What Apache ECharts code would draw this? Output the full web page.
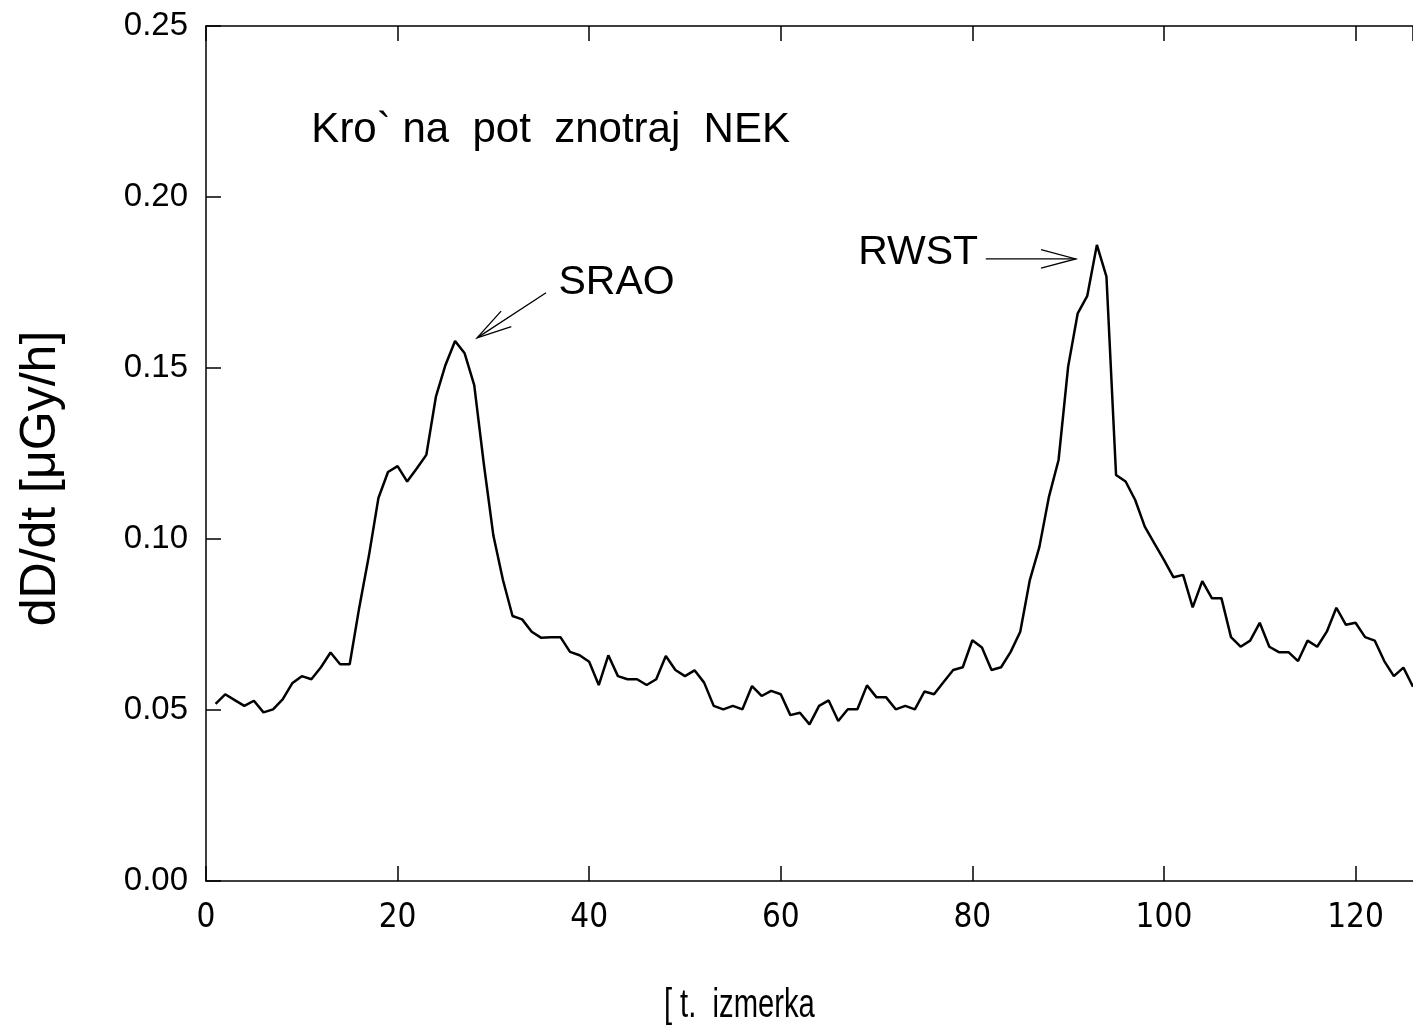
<!DOCTYPE html>
<html>
<head>
<meta charset="utf-8">
<script src="https://cdn.jsdelivr.net/npm/echarts@6/dist/echarts.min.js"></script>
<style>
html,body{margin:0;padding:0;background:#fff;}
#chart{width:1413px;height:1029px;}
</style>
</head>
<body>
<div id="chart"></div>
<script>
// measurement index 1..126
const xValues = [];
for (let i = 1; i <= 126; i++) xValues.push(i);

const doseRate = [
  0.0518, 0.0546, 0.0529, 0.0512, 0.0527, 0.0493, 0.0502, 0.0531, 0.0578, 0.0599,
  0.0590, 0.0625, 0.0668, 0.0634, 0.0634, 0.0800, 0.0950, 0.1120, 0.1196, 0.1213,
  0.1168, 0.1206, 0.1246, 0.1416, 0.1509, 0.1579, 0.1543, 0.1450, 0.1220, 0.1010,
  0.0880, 0.0775, 0.0765, 0.0729, 0.0711, 0.0713, 0.0713, 0.0670, 0.0660, 0.0641,
  0.0573, 0.0660, 0.0599, 0.0590, 0.0590, 0.0573, 0.0590, 0.0658, 0.0617, 0.0599,
  0.0616, 0.0580, 0.0512, 0.0502, 0.0512, 0.0502, 0.0570, 0.0541, 0.0556, 0.0546,
  0.0485, 0.0492, 0.0458, 0.0512, 0.0528, 0.0468, 0.0502, 0.0502, 0.0572, 0.0537,
  0.0537, 0.0502, 0.0512, 0.0502, 0.0554, 0.0546, 0.0582, 0.0617, 0.0625, 0.0704,
  0.0683, 0.0617, 0.0625, 0.0670, 0.0729, 0.0880, 0.0977, 0.1124, 0.1231, 0.1504,
  0.1660, 0.1711, 0.1860, 0.1767, 0.1187, 0.1168, 0.1114, 0.1036, 0.0987, 0.0939,
  0.0888, 0.0895, 0.0800, 0.0877, 0.0827, 0.0827, 0.0713, 0.0685, 0.0703, 0.0755,
  0.0685, 0.0669, 0.0669, 0.0643, 0.0703, 0.0685, 0.0729, 0.0799, 0.0749, 0.0755,
  0.0713, 0.0703, 0.0643, 0.0599, 0.0624, 0.0568
];

const titleText = 'Kro` na  pot  znotraj  NEK';
const yAxisName = 'dD/dt [\u03BCGy/h]';
const xAxisName = '[ t.  izmerka';

// annotation anchors in data coordinates
const titleAnchor = [11.0, 0.2196];
const sraoLabel = { text: 'SRAO', at: [36.8, 0.1749], align: 'left' };
const rwstLabel = { text: 'RWST', at: [80.6, 0.1836], align: 'right' };
const sraoArrow = { from: [35.5, 0.1720], to: [28.3, 0.1588] };
const rwstArrow = { from: [81.4, 0.1819], to: [90.8, 0.1819] };

const pairs = xValues.map((x, i) => [x, doseRate[i]]);

const chart = echarts.init(document.getElementById('chart'), null, { renderer: 'canvas' });

const axisFont = 'Arial, "Liberation Sans", sans-serif';
const narrowFont = '"Liberation Sans Narrow", "DejaVu Sans Condensed", Arial, sans-serif';

const option = {
  backgroundColor: '#fff',
  animation: false,
  grid: { left: 206, right: 0, top: 26, bottom: 148, containLabel: false },
  xAxis: [{
    type: 'value', min: 0, max: 126, interval: 20, position: 'bottom',
    axisLine: { show: true, lineStyle: { color: '#000', width: 1.5 } },
    axisTick: { show: true, inside: true, length: 15, lineStyle: { color: '#000', width: 1.5 } },
    axisLabel: { show: true, color: '#000', fontSize: 33, fontFamily: narrowFont, margin: 21, showMaxLabel: false,
      formatter: v => (v % 20 === 0 ? String(v) : '') },
    splitLine: { show: false }
  }, {
    type: 'value', min: 0, max: 126, interval: 20, position: 'top',
    axisLine: { show: true, lineStyle: { color: '#000', width: 1.5 } },
    axisTick: { show: true, inside: true, length: 15, lineStyle: { color: '#000', width: 1.5 } },
    axisLabel: { show: false },
    splitLine: { show: false }
  }],
  yAxis: [{
    type: 'value', min: 0, max: 0.25, interval: 0.05,
    name: yAxisName, nameLocation: 'middle', nameGap: 140, nameRotate: 90,
    nameTextStyle: { color: '#000', fontSize: 50, fontFamily: axisFont, padding: [0, 50, 0, 0] },
    axisLine: { show: true, lineStyle: { color: '#000', width: 1.5 } },
    axisTick: { show: true, inside: true, length: 15, lineStyle: { color: '#000', width: 1.5 } },
    axisLabel: { color: '#000', fontSize: 33, fontFamily: axisFont, margin: 18, formatter: v => v.toFixed(2) },
    splitLine: { show: false }
  }],
  series: [{
    type: 'line', xAxisIndex: 0, yAxisIndex: 0,
    data: pairs, showSymbol: false, symbol: 'none',
    lineStyle: { color: '#000', width: 2.5 },
    clip: true
  }]
};
chart.setOption(option);

function px(p) { return chart.convertToPixel({ xAxisIndex: 0, yAxisIndex: 0 }, p); }

function arrowElems(a) {
  const s = px(a.from), t = px(a.to);
  const ang = Math.atan2(t[1] - s[1], t[0] - s[0]);
  const L = 36, h = 15 * Math.PI / 180;
  const a1 = [t[0] - L * Math.cos(ang - h), t[1] - L * Math.sin(ang - h)];
  const a2 = [t[0] - L * Math.cos(ang + h), t[1] - L * Math.sin(ang + h)];
  const st = { stroke: '#000', lineWidth: 1.3, fill: null };
  return [
    { type: 'line', shape: { x1: s[0], y1: s[1], x2: t[0], y2: t[1] }, style: st, silent: true },
    { type: 'polyline', shape: { points: [a1, t, a2] }, style: st, silent: true }
  ];
}

const tp = px(titleAnchor);
const sp = px(sraoLabel.at);
const rp = px(rwstLabel.at);
const xNamePos = px([47.8, 0]);

chart.setOption({
  graphic: [
    { type: 'text', x: tp[0], y: tp[1], style: { text: titleText, fill: '#000', font: '42px Arial, "Liberation Sans", sans-serif', textAlign: 'left', textVerticalAlign: 'middle' } },
    { type: 'text', x: sp[0], y: sp[1], style: { text: sraoLabel.text, fill: '#000', font: '41px Arial, "Liberation Sans", sans-serif', textAlign: 'left', textVerticalAlign: 'middle' } },
    { type: 'text', x: rp[0], y: rp[1], style: { text: rwstLabel.text, fill: '#000', font: '41px Arial, "Liberation Sans", sans-serif', textAlign: 'right', textVerticalAlign: 'middle' } },
    { type: 'text', x: xNamePos[0], y: 1006, scaleX: 0.73, style: { text: xAxisName, fill: '#000', font: '40px Arial, "Liberation Sans", sans-serif', textAlign: 'left', textVerticalAlign: 'middle' } },
    ...arrowElems(sraoArrow),
    ...arrowElems(rwstArrow)
  ]
});
</script>
</body>
</html>
